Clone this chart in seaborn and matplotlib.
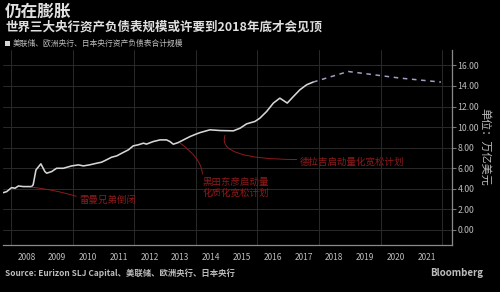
import matplotlib
matplotlib.use("Agg")
import matplotlib.pyplot as plt
import seaborn as sns
import pandas as pd
import numpy as np

# ---- data ----
hist_years = [2007.75, 2007.86, 2008.02, 2008.13, 2008.24, 2008.40, 2008.67, 2008.72, 2008.81, 2008.97,
              2009.10, 2009.16, 2009.32, 2009.48, 2009.70, 2009.97, 2010.19, 2010.35, 2010.55, 2010.78,
              2010.94, 2011.10, 2011.27, 2011.43, 2011.60, 2011.81, 2011.97, 2012.13, 2012.30, 2012.40,
              2012.62, 2012.84, 2013.05, 2013.16, 2013.27, 2013.43, 2013.60, 2013.81, 2014.03, 2014.14,
              2014.46, 2014.79, 2015.22, 2015.44, 2015.65, 2015.92, 2016.08, 2016.30, 2016.52, 2016.73,
              2016.97, 2017.17, 2017.38, 2017.60, 2017.81]
hist_values = [3.63, 3.73, 4.12, 4.06, 4.28, 4.22, 4.22, 4.40, 5.84, 6.43,
               5.68, 5.52, 5.68, 6.00, 6.00, 6.23, 6.33, 6.23, 6.33, 6.49,
               6.59, 6.82, 7.08, 7.20, 7.47, 7.79, 8.18, 8.28, 8.44, 8.35,
               8.60, 8.76, 8.76, 8.60, 8.34, 8.50, 8.76, 9.08, 9.35, 9.47,
               9.74, 9.67, 9.64, 9.90, 10.32, 10.55, 10.87, 11.52, 12.34, 12.82,
               12.34, 12.98, 13.63, 14.12, 14.38]
fc_years = [2017.81, 2018.95, 2020.63, 2021.96]
fc_values = [14.38, 15.41, 14.77, 14.38]

year_labels = ["2008", "2009", "2010", "2011", "2012", "2013", "2014",
               "2015", "2016", "2017", "2018", "2019", "2020", "2021"]
y_ticks = [0, 2, 4, 6, 8, 10, 12, 14, 16]

title = "仍在膨胀"
subtitle = "世界三大央行资产负债表规模或许要到2018年底才会见顶"
legend_label = "美联储、欧洲央行、日本央行资产负债表合计规模"
ylabel = "单位：万亿美元"
source = "Source: Eurizon SLJ Capital、美联储、欧洲央行、日本央行"
ann_lehman = "雷曼兄弟倒闭"
ann_kuroda = "黑田东彦启动量\n化质化宽松计划"
ann_draghi = "德拉吉启动量化宽松计划"

# ---- style ----
sns.set_theme(style="dark")
plt.rcParams['font.family'] = ['Noto Sans CJK SC', 'DejaVu Sans']

BG = "#000000"
GRID = "#2a2a2a"
TXT = "#bdbdbd"
RED = "#8e1b1b"

fig = plt.figure(figsize=(5, 2.92), dpi=100, facecolor=BG)
ax = fig.add_axes([3/500, 1-245/292, (452-3)/500, (245-50)/292])
ax.set_facecolor(BG)

hist = pd.DataFrame({"year": hist_years, "value": hist_values})
fc = pd.DataFrame({"year": fc_years, "value": fc_values})
sns.lineplot(data=hist, x="year", y="value", ax=ax, color="#d6d6d6", linewidth=1.15)
sns.lineplot(data=fc, x="year", y="value", ax=ax, color="#a89cc4", linewidth=1.1,
             linestyle=(0, (3, 3)))

ax.set_xlim(2007.74, 2022.32)
ax.set_ylim(-1.46, 17.5)

# grid
for y in y_ticks:
    ax.axhline(y, color=GRID, linewidth=0.7, zorder=0)
for x in range(2008, 2023, 2):
    ax.axvline(x, color=GRID, linewidth=0.7, zorder=0)

# x ticks: boundaries as long ticks, labels centred at mid-year
ax.set_xticks(list(range(2008, 2022)))
ax.set_xticklabels([])
ax.set_xticks([int(l) + 0.5 for l in year_labels], minor=True)
ax.set_xticklabels(year_labels, minor=True)
ax.tick_params(axis="x", which="major", length=15, width=0.8, color="#777777", direction="out")
ax.tick_params(axis="x", which="minor", length=0, labelsize=6, labelcolor=TXT, pad=6)

# y ticks on right
ax.yaxis.tick_right()
ax.set_yticks(y_ticks)
ax.set_yticklabels([f"{v:.2f}" for v in y_ticks])
ax.tick_params(axis="y", length=3, width=0.8, color="#777777", labelsize=6.3,
               labelcolor=TXT, pad=1)
ax.set_xlabel("")
ax.set_ylabel("")

for s in ["top", "left"]:
    ax.spines[s].set_visible(False)
for s in ["bottom", "right"]:
    ax.spines[s].set_visible(True)
    ax.spines[s].set_color("#8a8a8a")
    ax.spines[s].set_linewidth(0.9)

# annotations
ax.annotate(ann_lehman, xy=(2008.67, 4.16), xytext=(2010.22, 2.9),
            color=RED, fontsize=6.8, va="center", ha="left",
            arrowprops=dict(arrowstyle="-", color=RED, lw=0.7,
                            connectionstyle="arc3,rad=0.05",
                            shrinkA=0, shrinkB=0, relpos=(0, 0.8)))
ax.annotate(ann_kuroda, xy=(2013.49, 8.45), xytext=(2014.22, 4.15),
            color=RED, fontsize=6.8, va="center", ha="left", linespacing=1.2,
            arrowprops=dict(arrowstyle="-", color=RED, lw=0.7,
                            connectionstyle="angle3,angleA=90,angleB=-35",
                            shrinkA=0, shrinkB=0, relpos=(0, 1.05)))
ax.annotate(ann_draghi, xy=(2014.95, 9.2), xytext=(2017.38, 6.62),
            color=RED, fontsize=6.8, va="center", ha="left",
            arrowprops=dict(arrowstyle="-", color=RED, lw=0.7,
                            connectionstyle="angle3,angleA=0,angleB=70",
                            shrinkA=0, shrinkB=0, relpos=(-0.01, 0.75)))

# header texts
fig.text(5/500, 1-12/292, title, color="#e0e0e0", fontsize=12, fontweight="bold",
         va="center", ha="left")
fig.text(5/500, 1-27/292, subtitle, color="#e0e0e0", fontsize=9, fontweight="bold",
         va="center", ha="left")
fig.patches.append(plt.Rectangle((5/500, 1-46/292), 5/500, 5/292, transform=fig.transFigure,
                                 facecolor="#d6d6d6", edgecolor="none"))
fig.text(13/500, 1-43.5/292, legend_label, color=TXT, fontsize=5.6, va="center", ha="left")

fig.text(485/500, 1-147/292, ylabel, color=TXT, fontsize=8, rotation=270,
         va="center", ha="center")

fig.text(5/500, 1-273/292, source, color=TXT, fontsize=6, fontweight="bold",
         va="center", ha="left")
fig.text(430/500, 1-273/292, "Bloomberg", color=TXT, fontsize=7, fontweight="bold",
         va="center", ha="left")

fig.savefig("out.png", dpi=100, facecolor=BG)
